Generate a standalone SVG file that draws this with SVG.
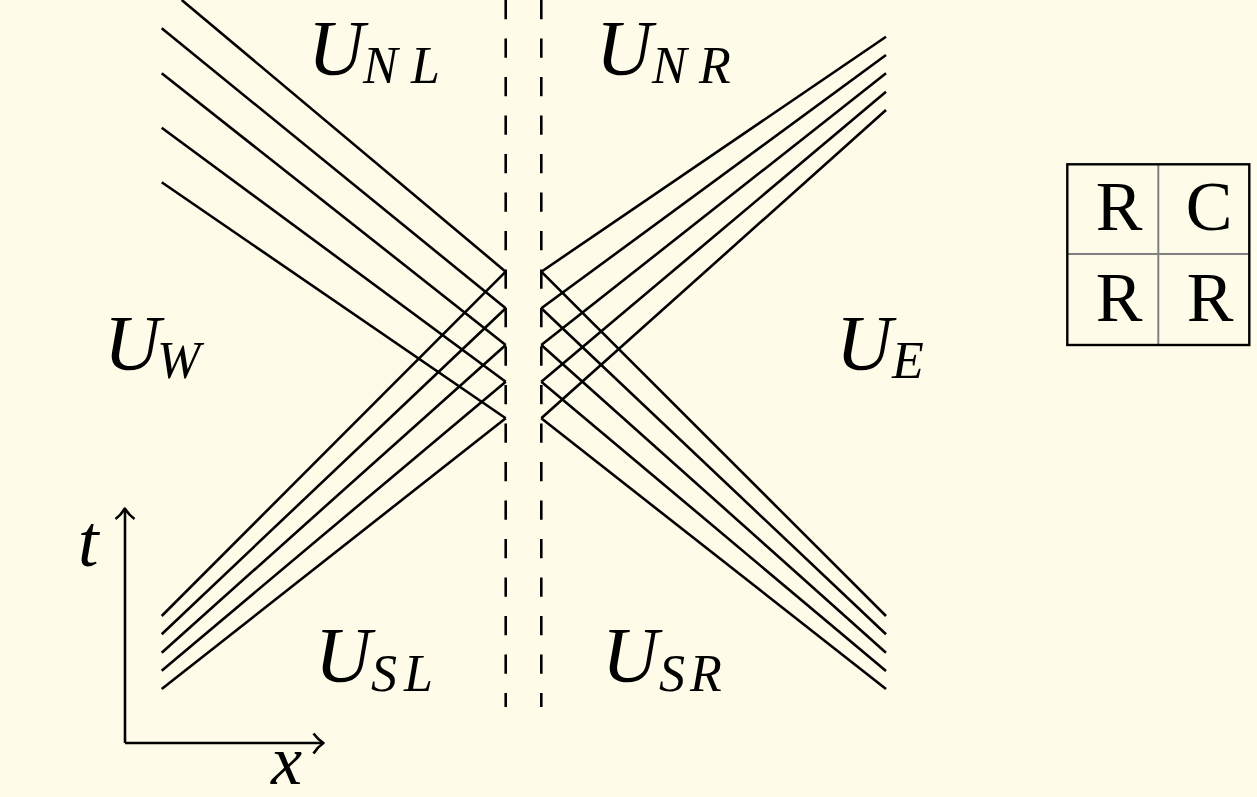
<svg xmlns="http://www.w3.org/2000/svg" width="1257" height="797" viewBox="0 0 1257 797">
<style>
.ln{stroke:#000;stroke-width:2.6;fill:none;stroke-linecap:butt}
.dash{stroke:#000;stroke-width:2.6;fill:none;stroke-dasharray:19.25 19.25}
.mi{font-family:"Liberation Serif","DejaVu Serif",serif;font-style:italic;fill:#000}
.big{font-size:78px}
.sub{font-size:52px}
.rm{font-family:"Liberation Serif","DejaVu Serif",serif;font-size:70px;fill:#000;text-anchor:middle}
</style>
<rect x="0" y="0" width="1257" height="797" fill="#fefce9"/>
<g id="connectors">
  <g id="dashed">
    <line class="dash" x1="505.7" y1="0" x2="505.7" y2="707"/>
    <line class="dash" x1="541.3" y1="0" x2="541.3" y2="707"/>
  </g>
  <g id="top-left">
    <line class="ln" x1="181.7" y1="0" x2="505.7" y2="271.7"/>
    <line class="ln" x1="161.7" y1="28.3" x2="505.7" y2="308.3"/>
    <line class="ln" x1="161.7" y1="73.3" x2="505.7" y2="345"/>
    <line class="ln" x1="161.7" y1="127.7" x2="505.7" y2="381.7"/>
    <line class="ln" x1="161.7" y1="182.3" x2="505.7" y2="418.3"/>
  </g>
  <g id="bottom-left">
    <line class="ln" x1="161.7" y1="616" x2="505.7" y2="271.7"/>
    <line class="ln" x1="161.7" y1="634.3" x2="505.7" y2="308.3"/>
    <line class="ln" x1="161.7" y1="652.7" x2="505.7" y2="345"/>
    <line class="ln" x1="161.7" y1="670.7" x2="505.7" y2="381.7"/>
    <line class="ln" x1="161.7" y1="689" x2="505.7" y2="418.3"/>
  </g>
  <g id="top-right">
    <line class="ln" x1="886" y1="36.7" x2="541.3" y2="271.7"/>
    <line class="ln" x1="886" y1="55" x2="541.3" y2="308.3"/>
    <line class="ln" x1="886" y1="73.3" x2="541.3" y2="345"/>
    <line class="ln" x1="886" y1="91.7" x2="541.3" y2="381.7"/>
    <line class="ln" x1="886" y1="110" x2="541.3" y2="418.3"/>
  </g>
  <g id="bottom-right">
    <line class="ln" x1="886" y1="616" x2="541.3" y2="271.7"/>
    <line class="ln" x1="886" y1="634.3" x2="541.3" y2="308.3"/>
    <line class="ln" x1="886" y1="652.7" x2="541.3" y2="345"/>
    <line class="ln" x1="886" y1="671" x2="541.3" y2="381.7"/>
    <line class="ln" x1="886" y1="689" x2="541.3" y2="418.3"/>
  </g>
</g>
<g id="axes">
  <path class="ln" d="M125,743 V509 M125,743 H322"/>
  <path class="ln" stroke-linejoin="round" d="M115.5,519 Q121,515 124.8,508.5 Q129,515 134.5,519"/>
  <path class="ln" stroke-linejoin="round" d="M313.5,733.5 Q317.5,739 323.5,743 Q317.5,747 313.5,753.5"/>
  <text class="mi" x="78" y="566" font-size="74">t</text>
  <text class="mi" x="271" y="784" font-size="70">x</text>
</g>
<g id="U_NL"><text class="mi big" x="308" y="74">U</text><text class="mi sub" x="363" y="83">N</text><text class="mi sub" x="411" y="83">L</text></g>
<g id="U_NR"><text class="mi big" x="596" y="74">U</text><text class="mi sub" x="652" y="83">N</text><text class="mi sub" x="699" y="83">R</text></g>
<g id="U_W"><text class="mi big" x="104" y="369">U</text><text class="mi sub" x="157" y="378">W</text></g>
<g id="U_E"><text class="mi big" x="836" y="369">U</text><text class="mi sub" x="892" y="378">E</text></g>
<g id="U_SL"><text class="mi big" x="315" y="681">U</text><text class="mi sub" x="371" y="691">S</text><text class="mi sub" x="404" y="691">L</text></g>
<g id="U_SR"><text class="mi big" x="602" y="681">U</text><text class="mi sub" x="659" y="691">S</text><text class="mi sub" x="690" y="691">R</text></g>
<g id="table">
  <line x1="1158.3" y1="164.3" x2="1158.3" y2="345" stroke="#808080" stroke-width="2"/>
  <line x1="1067.3" y1="254" x2="1249.3" y2="254" stroke="#808080" stroke-width="2"/>
  <rect x="1067.3" y="164.3" width="182" height="180.7" fill="none" stroke="#000" stroke-width="2.4"/>
  <text class="rm" x="1119" y="230">R</text>
  <text class="rm" x="1209" y="230">C</text>
  <text class="rm" x="1119" y="321">R</text>
  <text class="rm" x="1210" y="321">R</text>
</g>
</svg>
